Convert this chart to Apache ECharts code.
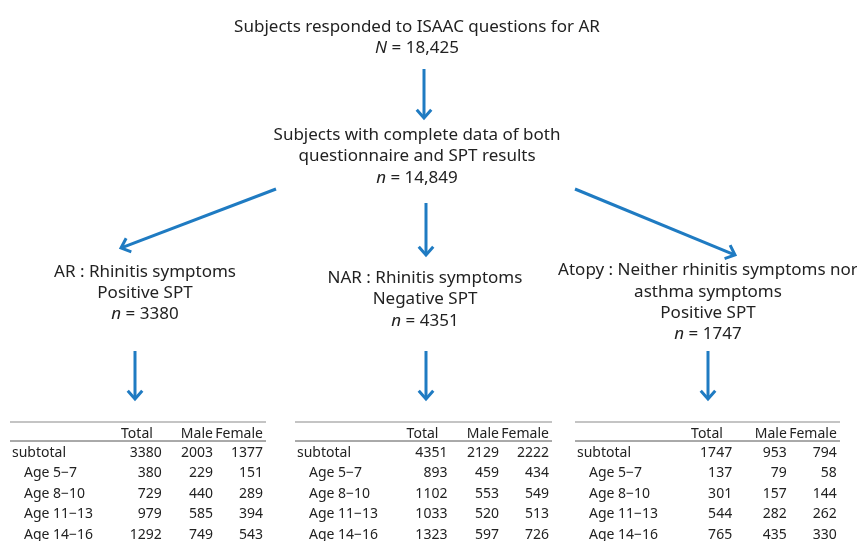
<!DOCTYPE html>
<html>
<head>
<meta charset="utf-8">
<script src="https://cdn.jsdelivr.net/npm/echarts@6/dist/echarts.min.js"></script>
<style>
html, body { margin: 0; background: #fff; }
#main { width: 857px; height: 541px; }
</style>
</head>
<body>
<div id="main"></div>
<script>
// flow chart texts
var stepTop = ['Subjects responded to ISAAC questions for AR', '{i|N} = 18,425'];
var stepMid = ['Subjects with complete data of both', 'questionnaire and SPT results', '{i|n} = 14,849'];
var groupText = [
  ['AR : Rhinitis symptoms', 'Positive SPT', '{i|n} = 3380'],
  ['NAR : Rhinitis symptoms', 'Negative SPT', '{i|n} = 4351'],
  ['Atopy : Neither rhinitis symptoms nor', 'asthma symptoms', 'Positive SPT', '{i|n} = 1747']
];

// table data
var colLabels = ['Total', 'Male', 'Female'];
var rowLabels = ['subtotal', 'Age 5\u22127', 'Age 8\u221210', 'Age 11\u221213', 'Age 14\u221216'];
var arTotal = [3380, 380, 729, 979, 1292];
var arMale = [2003, 229, 440, 585, 749];
var arFemale = [1377, 151, 289, 394, 543];
var narTotal = [4351, 893, 1102, 1033, 1323];
var narMale = [2129, 459, 553, 520, 597];
var narFemale = [2222, 434, 549, 513, 726];
var atopyTotal = [1747, 137, 301, 544, 765];
var atopyMale = [953, 79, 157, 282, 435];
var atopyFemale = [794, 58, 144, 262, 330];

var FONT = '"Noto Sans", "Open Sans", sans-serif';
var BLUE = '#1f7bc2';
var INK = '#222';

var chart = echarts.init(document.getElementById('main'));
var els = [];

function txt(x, y, s, size, align) {
  els.push({
    type: 'text', x: x, y: y,
    style: {
      text: s, fill: INK, fontFamily: FONT, fontSize: size,
      align: align || 'center', verticalAlign: 'middle',
      rich: { i: { fontStyle: 'italic', fontFamily: FONT, fontSize: size, fill: INK } }
    }
  });
}

function arrow(x1, y1, x2, y2) {
  var a = Math.atan2(y2 - y1, x2 - x1);
  var len = 11, spread = 0.72;
  var p1 = [x2 - len * Math.cos(a - spread), y2 - len * Math.sin(a - spread)];
  var p2 = [x2 - len * Math.cos(a + spread), y2 - len * Math.sin(a + spread)];
  els.push({ type: 'line', shape: { x1: x1, y1: y1, x2: x2 - Math.cos(a), y2: y2 - Math.sin(a) },
    style: { stroke: BLUE, lineWidth: 3 } });
  els.push({ type: 'polyline', shape: { points: [p1, [x2, y2], p2] },
    style: { stroke: BLUE, lineWidth: 3, fill: null, lineJoin: 'miter' } });
}

function lines(cx, ys, arr, size) {
  arr.forEach(function (s, i) { txt(cx, ys[i], s, size); });
}

// top part
lines(417, [27, 48], stepTop, 17);
arrow(424, 69, 424, 118);
lines(417, [135, 156, 178], stepMid, 17);
arrow(276, 189, 121, 248);
arrow(426, 203, 426, 255);
arrow(575, 189, 735, 255);

lines(145, [272, 293, 314], groupText[0], 17);
lines(425, [278, 299, 321], groupText[1], 17);
lines(708, [270, 292, 313, 334], groupText[2], 17);

arrow(135, 351, 135, 399);
arrow(426, 351, 426, 399);
arrow(708, 351, 708, 399);

// tables
function table(left, width, cols) {
  var top = 422, head = 434, rule = 441, row0 = 453, step = 20.4;
  els.push({ type: 'line', shape: { x1: left, y1: top, x2: left + width, y2: top },
    style: { stroke: '#8a8a8a', lineWidth: 1.2 } });
  els.push({ type: 'line', shape: { x1: left, y1: rule, x2: left + width, y2: rule },
    style: { stroke: '#555', lineWidth: 1 } });
  var femaleX = left + width * 0.988;
  var numRight = [left + width * 0.593, femaleX - 50, femaleX];
  var headRight = [left + width * 0.558, femaleX - 50, femaleX];
  colLabels.forEach(function (c, j) {
    txt(headRight[j], head, c, 14, 'right');
  });
  rowLabels.forEach(function (r, i) {
    var y = row0 + i * step;
    txt(left + (i === 0 ? 2 : 14), y, r, 14, 'left');
    cols.forEach(function (col, j) {
      txt(numRight[j], y, String(col[i]), 14, 'right');
    });
  });
}

table(10, 256, [arTotal, arMale, arFemale]);
table(295, 257, [narTotal, narMale, narFemale]);
table(575, 265, [atopyTotal, atopyMale, atopyFemale]);

chart.setOption({
  backgroundColor: '#fff',
  animation: false,
  graphic: { elements: els }
});
</script>
</body>
</html>
